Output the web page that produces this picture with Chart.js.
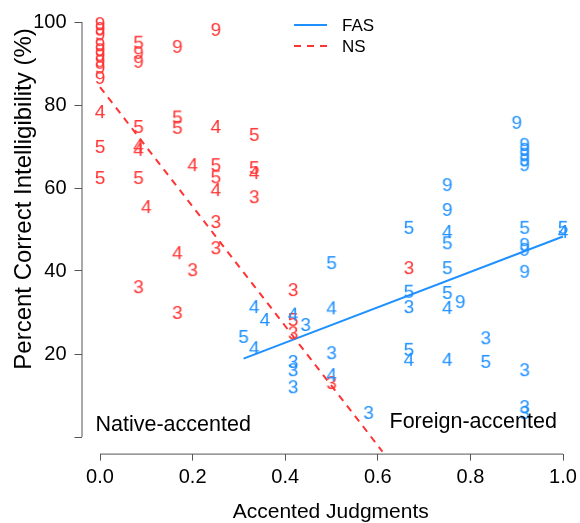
<!DOCTYPE html>
<html>
<head>
<meta charset="utf-8">
<script src="https://cdn.jsdelivr.net/npm/chart.js@4"></script>
<style>
  html, body { margin: 0; padding: 0; background: #fff; overflow: hidden; }
  canvas { display: block; }
</style>
</head>
<body>
<canvas id="chart" width="580" height="523"></canvas>
<script>
// FAS speakers (foreign-accented): judgment, intelligibility, label digit
var fasX = [0.333, 0.356, 0.31, 0.333, 0.417, 0.444, 0.5, 0.417, 0.417, 0.417, 0.5, 0.5, 0.58, 0.5,
            0.9, 0.917, 0.917, 0.917, 0.917, 0.917,
            0.75, 0.75, 0.667, 0.75, 0.75, 0.75,
            0.917, 1.0, 1.0, 0.917, 0.917, 0.917,
            0.667, 0.667, 0.75, 0.75, 0.778, 0.833, 0.667, 0.667, 0.75, 0.833, 0.917, 0.917, 0.917];
var fasY = [31.3, 28.2, 24.1, 21.4, 29.5, 27, 31, 18.1, 16.1, 12, 20.2, 14.9, 5.8, 41.9,
            75.7, 70.4, 69.2, 68, 66.7, 65.5,
            60.7, 54.7, 50.4, 49.4, 46.7, 40.7,
            50.4, 50.4, 49.4, 46.3, 45.1, 39.8,
            35, 31.3, 34.7, 31.1, 32.5, 23.8, 21, 18.6, 18.6, 18.1, 16.1, 7.2, 5.8];
var fasLabel = ["4","4","5","4","4","3","4","3","3","3","3","4","3","5",
                "9","9","9","9","9","9",
                "9","9","5","4","5","5",
                "5","5","4","9","9","9",
                "5","3","5","4","9","3","5","4","4","5","3","3","3"];

// NS speakers (native)
var nsX = [0, 0, 0, 0, 0, 0, 0, 0, 0, 0, 0, 0,
           0.083, 0.083, 0.083, 0.083, 0.083, 0.083, 0.083, 0.083, 0.1,
           0.167, 0.167, 0.167, 0.167, 0.167, 0.2, 0.2,
           0.25, 0.25, 0.25, 0.25, 0.25, 0.25, 0.25,
           0.333, 0.333, 0.333, 0.333,
           0.417, 0.417, 0.417, 0.5, 0.667];
var nsY = [99.5, 98.3, 97, 94.5, 93.2, 92, 90.5, 89, 86.5, 78.3, 69.9, 62.4,
           95, 92.5, 90.4, 74.7, 70.1, 69.2, 62.4, 36.1, 55.4,
           94, 77, 74.5, 44.3, 29.9, 40.2, 65.5,
           98.1, 74.7, 65.5, 62.6, 59.5, 51.8, 45.5,
           72.8, 64.8, 63.6, 57.8,
           35.4, 28.2, 25, 13, 40.7];
var nsLabel = ["9","9","9","9","9","9","9","9","9","4","5","5",
               "5","9","9","5","4","4","5","3","4",
               "9","5","5","4","3","3","4",
               "9","4","5","5","4","3","3",
               "5","5","4","3",
               "3","5","3","3","3"];

// regression lines (end points)
var fasLineX = [0.31, 1.0];
var fasLineY = [18.9, 48.3];
var nsLineX = [0, 0.61];
var nsLineY = [84.3, -3.5];

var xTicks = [0, 0.2, 0.4, 0.6, 0.8, 1.0];
var yTicks = [0, 20, 40, 60, 80, 100];

var blue = "#1E90FF";
var red = "#FF3333";
var font = "'Liberation Sans', Arial, sans-serif";

function toPoints(xs, ys)
{
	var out = [];
	for (let i = 0; i < xs.length; i++) out.push({x: xs[i], y: ys[i]});
	return out;
}

// small canvases holding the digit so Chart.js can use them as point styles
var glyphCache = {};
function glyph(txt, color)
{
	var key = txt + color;
	if (glyphCache[key]) return glyphCache[key];
	var c = document.createElement("canvas");
	c.width = 16; c.height = 22;
	var g = c.getContext("2d");
	g.font = "19px " + font;
	g.fillStyle = color;
	g.textAlign = "center";
	g.textBaseline = "middle";
	g.fillText(txt, 8, 12);
	glyphCache[key] = c;
	return c;
}

var extras = {
	id: "extras",
	afterDraw: function(chart)
	{
		var ctx = chart.ctx;
		var xs = chart.scales.x, ys = chart.scales.y;
		var area = chart.chartArea;
		ctx.save();
		// axis lines only over the tick range
		ctx.strokeStyle = "#555";
		ctx.lineWidth = 1;
		ctx.beginPath();
		ctx.moveTo(xs.getPixelForValue(0), area.bottom + 0.5);
		ctx.lineTo(xs.getPixelForValue(1), area.bottom + 0.5);
		ctx.moveTo(area.left + 0.5, ys.getPixelForValue(0));
		ctx.lineTo(area.left + 0.5, ys.getPixelForValue(100));
		ctx.stroke();

		// y axis title
		ctx.fillStyle = "#000";
		ctx.textAlign = "center";
		ctx.textBaseline = "middle";
		ctx.save();
		ctx.translate(24, 199);
		ctx.rotate(-Math.PI / 2);
		ctx.font = "24px " + font;
		ctx.fillText("Percent Correct Intelligibility (%)", 0, 0);
		ctx.restore();

		// region labels
		ctx.font = "21.5px " + font;
		ctx.fillText("Native-accented", xs.getPixelForValue(0.158), ys.getPixelForValue(2.9));
		ctx.fillText("Foreign-accented", xs.getPixelForValue(0.806), ys.getPixelForValue(3.6));

		// legend
		ctx.lineWidth = 2;
		ctx.strokeStyle = blue;
		ctx.beginPath();
		ctx.moveTo(294, 25); ctx.lineTo(327, 25);
		ctx.stroke();
		ctx.strokeStyle = red;
		ctx.setLineDash([7, 6]);
		ctx.beginPath();
		ctx.moveTo(294, 46); ctx.lineTo(327, 46);
		ctx.stroke();
		ctx.setLineDash([]);
		ctx.font = "17px " + font;
		ctx.textAlign = "left";
		ctx.fillText("FAS", 342, 26);
		ctx.fillText("NS", 342, 47);
		ctx.restore();
	}
};

var ctx = document.getElementById("chart").getContext("2d");
var mychart = new Chart(ctx, {
	type: "scatter",
	data: {
		datasets: [
			{
				label: "FAS",
				data: toPoints(fasX, fasY),
				pointStyle: function(c) { return glyph(fasLabel[c.dataIndex], blue); },
				pointRadius: 8,
				clip: false
			},
			{
				label: "NS",
				data: toPoints(nsX, nsY),
				pointStyle: function(c) { return glyph(nsLabel[c.dataIndex], red); },
				pointRadius: 8,
				clip: false
			},
			{
				type: "line",
				label: "FAS fit",
				data: toPoints(fasLineX, fasLineY),
				borderColor: blue,
				borderWidth: 2,
				pointRadius: 0,
				fill: false
			},
			{
				type: "line",
				label: "NS fit",
				data: toPoints(nsLineX, nsLineY),
				borderColor: red,
				borderWidth: 2,
				borderDash: [7, 6],
				pointRadius: 0,
				fill: false,
				clip: 0
			}
		]
	},
	options: {
		responsive: false,
		animation: false,
		layout: { autoPadding: false, padding: { left: 0, right: 0, top: 5.4, bottom: 0 } },
		plugins: {
			legend: { display: false },
			tooltip: { enabled: false }
		},
		scales: {
			x: {
				type: "linear",
				min: -0.04,
				max: 1.0367,
				afterBuildTicks: function(s) { s.ticks = xTicks.map(function(v) { return {value: v}; }); },
				afterFit: function(s) {
					s.height = 69.4;
					s.paddingLeft = 0; s.paddingRight = 0;
				},
				grid: { drawOnChartArea: false, drawTicks: true, tickLength: 7, color: "#555" },
				border: { display: false },
				ticks: {
					color: "#000",
					padding: 5,
					maxRotation: 0,
					font: { family: font, size: 20 },
					callback: function(v) { return v.toFixed(1); }
				},
				title: {
					display: true,
					text: "Accented Judgments",
					color: "#000",
					font: { family: font, size: 21, lineHeight: 1.05 },
					padding: { top: 0, bottom: 0 }
				}
			},
			y: {
				type: "linear",
				min: -4,
				max: 104,
				afterBuildTicks: function(s) { s.ticks = yTicks.map(function(v) { return {value: v}; }); },
				afterFit: function(s) {
					s.width = 81.5;
					s.paddingTop = 0; s.paddingBottom = 0;
				},
				grid: { drawOnChartArea: false, drawTicks: true, tickLength: 7, color: "#555" },
				border: { display: false },
				ticks: {
					color: "#000",
					padding: 8,
					font: { family: font, size: 20 },
					callback: function(v) { return v === 0 ? "" : v; }
				}
			}
		}
	},
	plugins: [extras]
});
</script>
</body>
</html>
